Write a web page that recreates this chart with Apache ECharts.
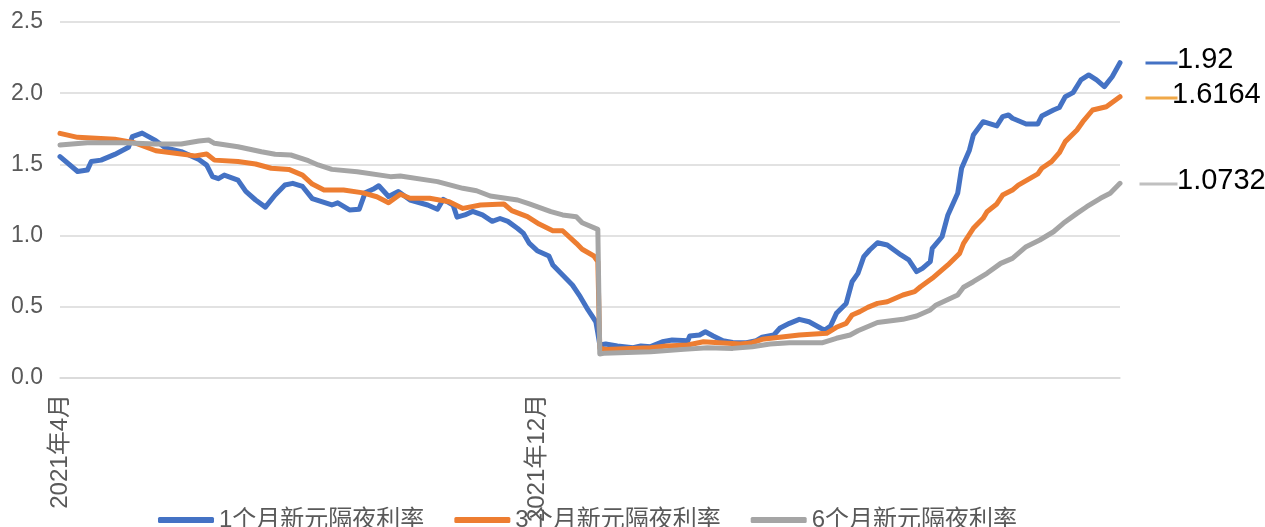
<!DOCTYPE html>
<html>
<head>
<meta charset="utf-8">
<script src="https://cdn.jsdelivr.net/npm/echarts@6/dist/echarts.min.js"></script>
<style>
html,body{margin:0;padding:0;background:#fff;}
#c{width:1265px;height:527px;}
</style>
</head>
<body>
<div id="c"></div>
<script>
// x axis: daily categories from 2021-04-01 (day 0) to 2022-09-25 (day 542)
const startDate = '2021-04-01';
const dayCount = 543;
const tickLabels = { '2021-04-01': '2021年4月', '2021-12-01': '2021年12月' };
const seriesNames = ['1个月新元隔夜利率', '3个月新元隔夜利率', '6个月新元隔夜利率'];
const seriesColors = ['#4472C4', '#ED7D31', '#A5A5A5'];
const sideLabels = ['1.92', '1.6164', '1.0732'];
const sideColors = ['#4472C4', '#F0A848', '#C0C0C0'];

// [day offset, value]
const rate1m = [
  [0,1.555],[9,1.45],[14,1.46],[16,1.52],[21,1.53],[28,1.57],[35,1.62],[37,1.695],[42,1.72],[49,1.667],
  [54,1.615],[62,1.59],[71,1.535],[75,1.495],[78,1.414],[81,1.40],[84,1.425],[91,1.39],[95,1.31],[100,1.25],
  [105,1.20],[110,1.285],[115,1.355],[119,1.367],[124,1.345],[129,1.26],[139,1.215],[142,1.23],[148,1.18],[153,1.185],
  [156,1.30],[160,1.325],[163,1.35],[168,1.275],[173,1.31],[179,1.25],[188,1.215],[193,1.185],[196,1.255],[201,1.215],
  [203,1.13],[207,1.145],[211,1.17],[216,1.145],[221,1.10],[225,1.12],[229,1.10],[234,1.05],[237,1.015],[240,0.945],
  [244,0.894],[250,0.857],[252,0.794],[257,0.723],[262,0.653],[266,0.571],[270,0.478],[274,0.395],[275,0.316],[276,0.232],
  [279,0.239],[285,0.225],[293,0.213],[297,0.225],[302,0.22],[308,0.255],[313,0.267],[321,0.262],[322,0.295],[327,0.302],
  [330,0.325],[334,0.295],[339,0.262],[344,0.25],[351,0.248],[356,0.262],[359,0.286],[365,0.302],[368,0.349],[373,0.384],
  [378,0.412],[383,0.395],[389,0.349],[391,0.337],[394,0.365],[397,0.454],[402,0.524],[405,0.676],[408,0.735],[411,0.852],
  [414,0.899],[418,0.95],[423,0.934],[430,0.864],[434,0.829],[438,0.747],[441,0.77],[445,0.817],[446,0.91],[451,0.992],
  [454,1.145],[459,1.297],[461,1.473],[465,1.60],[467,1.706],[472,1.80],[479,1.77],[482,1.835],[485,1.847],[487,1.824],
  [494,1.784],[500,1.784],[502,1.84],[508,1.882],[511,1.90],[514,1.975],[518,2.004],[522,2.093],[526,2.128],[530,2.093],
  [534,2.046],[538,2.116],[542,2.214]
];
const rate3m = [
  [0,1.718],[9,1.69],[28,1.676],[38,1.652],[49,1.596],[59,1.578],[69,1.56],[75,1.573],[79,1.53],[91,1.52],
  [100,1.503],[108,1.473],[117,1.465],[124,1.425],[129,1.362],[135,1.32],[145,1.32],[155,1.30],[162,1.273],[168,1.231],
  [174,1.29],[179,1.262],[189,1.262],[199,1.238],[206,1.191],[215,1.215],[227,1.222],[231,1.175],[239,1.133],[245,1.081],
  [252,1.034],[257,1.034],[264,0.946],[267,0.904],[273,0.857],[275,0.817],[276,0.21],[279,0.201],[302,0.213],[310,0.225],
  [321,0.232],[329,0.255],[337,0.248],[348,0.239],[354,0.248],[359,0.272],[368,0.286],[378,0.302],[392,0.314],[397,0.356],
  [402,0.384],[405,0.442],[409,0.466],[413,0.496],[418,0.524],[423,0.536],[431,0.583],[437,0.606],[440,0.641],[446,0.70],
  [454,0.794],[460,0.875],[462,0.946],[467,1.051],[472,1.121],[474,1.168],[479,1.222],[482,1.285],[487,1.32],[490,1.355],
  [496,1.402],[500,1.433],[502,1.473],[507,1.519],[511,1.582],[514,1.66],[520,1.742],[523,1.80],[528,1.882],[535,1.905],
  [542,1.975]
];
const rate6m = [
  [0,1.636],[14,1.652],[32,1.652],[49,1.643],[62,1.643],[71,1.664],[76,1.671],[79,1.648],[91,1.624],[103,1.589],
  [110,1.571],[118,1.566],[127,1.526],[132,1.496],[139,1.465],[152,1.449],[169,1.414],[174,1.418],[193,1.379],[206,1.332],
  [213,1.315],[220,1.278],[234,1.25],[240,1.222],[251,1.168],[257,1.145],[264,1.133],[267,1.09],[275,1.044],[276,0.169],
  [278,0.173],[302,0.185],[319,0.201],[331,0.213],[344,0.208],[354,0.22],[363,0.239],[373,0.248],[390,0.248],[397,0.279],
  [404,0.302],[408,0.332],[418,0.39],[431,0.412],[438,0.435],[445,0.478],[448,0.513],[459,0.583],[462,0.637],[467,0.676],
  [474,0.735],[481,0.805],[487,0.84],[494,0.922],[501,0.969],[508,1.027],[513,1.086],[520,1.156],[525,1.203],[532,1.262],
  [537,1.297],[542,1.367]
];

const categories = [];
const t0 = Date.parse(startDate + 'T00:00:00Z');
for (let d = 0; d < dayCount; d++) {
  categories.push(new Date(t0 + d * 86400000).toISOString().slice(0, 10));
}
const toData = arr => arr.map(p => [categories[p[0]], p[1]]);

const chart = echarts.init(document.getElementById('c'), null, { renderer: 'canvas' });
const fontFamily = 'Liberation Sans, Arial, "Noto Sans CJK SC", sans-serif';
const sideY = [62, 97, 183];
const graphics = [];
sideLabels.forEach((t, i) => {
  graphics.push({
    type: 'line', left: i === 2 ? 1137 : 1143, top: sideY[i] - 1.5,
    shape: { x1: 0, y1: 0, x2: i === 2 ? 38 : 32, y2: 0 },
    style: { stroke: sideColors[i], lineWidth: 3 }
  });
  graphics.push({
    type: 'text', left: i === 1 ? 1172 : 1177, top: sideY[i] - 17,
    style: { text: t, fill: '#000', font: '29px ' + fontFamily }
  });
});

chart.setOption({
  animation: false,
  backgroundColor: '#fff',
  grid: { left: 60, right: 145, top: 22, bottom: 149, containLabel: false },
  legend: {
    data: seriesNames,
    top: 503,
    left: 153,
    icon: 'roundRect',
    itemWidth: 56,
    itemHeight: 6,
    itemGap: 30,
    textStyle: { color: '#595959', fontSize: 24, fontFamily: fontFamily }
  },
  xAxis: {
    type: 'category',
    data: categories,
    boundaryGap: false,
    axisLine: { show: true, lineStyle: { color: '#D9D9D9', width: 1.5 } },
    axisTick: { show: false },
    splitLine: { show: false },
    axisLabel: {
      rotate: 90,
      margin: 16,
      color: '#595959',
      fontSize: 24,
      fontFamily: fontFamily,
      interval: (idx, val) => tickLabels.hasOwnProperty(val),
      formatter: val => tickLabels[val] || ''
    }
  },
  yAxis: {
    type: 'value',
    min: 0,
    max: 2.5,
    interval: 0.5,
    axisLine: { show: false },
    axisTick: { show: false },
    splitLine: { lineStyle: { color: '#D9D9D9', width: 1.5 } },
    axisLabel: {
      margin: 17,
      color: '#595959',
      fontSize: 23,
      fontFamily: fontFamily,
      formatter: v => v.toFixed(1)
    }
  },
  series: [rate1m, rate3m, rate6m].map((arr, i) => ({
    name: seriesNames[i],
    type: 'line',
    data: toData(arr),
    showSymbol: false,
    symbol: 'none',
    lineStyle: { color: seriesColors[i], width: 5, join: 'round', cap: 'round' },
    itemStyle: { color: seriesColors[i] },
    emphasis: { disabled: true }
  })),
  graphic: graphics
});
</script>
</body>
</html>
